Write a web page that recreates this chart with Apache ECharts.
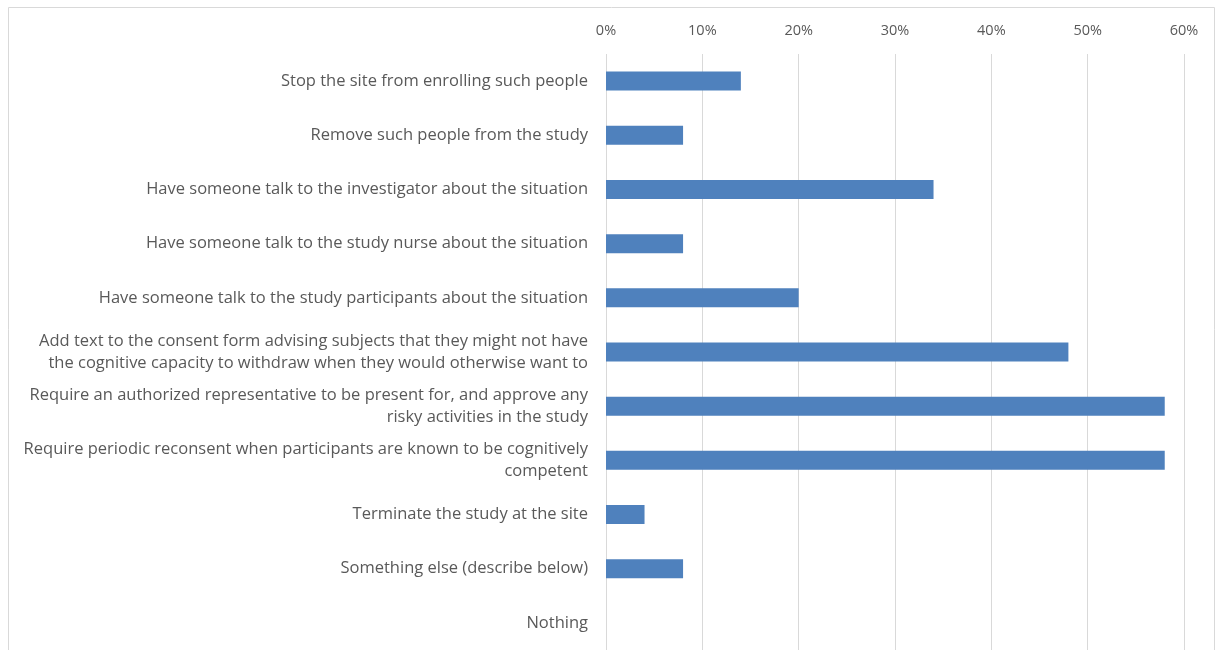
<!DOCTYPE html>
<html>
<head>
<meta charset="utf-8">
<script src="https://cdn.jsdelivr.net/npm/echarts@6/dist/echarts.min.js"></script>
<style>
	html, body { margin: 0; padding: 0; background: #fff; }
	#main { width: 1215px; height: 650px; }
</style>
</head>
<body>
<div id="main"></div>
<script>
// categories, top to bottom
var categories = [
	'Stop the site from enrolling such people',
	'Remove such people from the study',
	'Have someone talk to the investigator about the situation',
	'Have someone talk to the study nurse about the situation',
	'Have someone talk to the study participants about the situation',
	'Add text to the consent form advising subjects that they might not have\nthe cognitive capacity to withdraw when they would otherwise want to',
	'Require an authorized representative to be present for, and approve any\nrisky activities in the study',
	'Require periodic reconsent when participants are known to be cognitively\ncompetent',
	'Terminate the study at the site',
	'Something else (describe below)',
	'Nothing'
];
// share of respondents, %
var values = [14, 8, 34, 8, 20, 48, 58, 58, 4, 8, 0];
// axis ticks, %
var ticks = [0, 10, 20, 30, 40, 50, 60];

var chart = echarts.init(document.getElementById('main'));

chart.setOption({
	animation: false,
	textStyle: { fontFamily: 'Open Sans' },
	// outer chart frame
	graphic: [{
		type: 'rect',
		left: 6,
		top: 5,
		shape: { width: 1206, height: 660 },
		style: { fill: 'none', stroke: '#d9d9d9', lineWidth: 1 },
		silent: true
	}],
	grid: {
		left: 606,
		right: 31,
		top: 54,
		height: 602
	},
	xAxis: {
		type: 'value',
		position: 'top',
		min: ticks[0],
		max: ticks[ticks.length - 1],
		interval: 10,
		axisLine: { show: false },
		axisTick: { show: false },
		axisLabel: {
			formatter: '{value}%',
			color: '#595959',
			fontSize: 14.5,
			margin: 16
		},
		splitLine: { lineStyle: { color: '#d9d9d9' } }
	},
	yAxis: {
		type: 'category',
		inverse: true,
		data: categories,
		axisLine: { show: false },
		axisTick: { show: false },
		axisLabel: {
			color: '#595959',
			fontSize: 16.5,
			lineHeight: 22,
			margin: 18,
			align: 'right'
		}
	},
	series: [{
		type: 'bar',
		data: values,
		barWidth: 19,
		itemStyle: { color: '#4f81bd' }
	}]
});
</script>
</body>
</html>
